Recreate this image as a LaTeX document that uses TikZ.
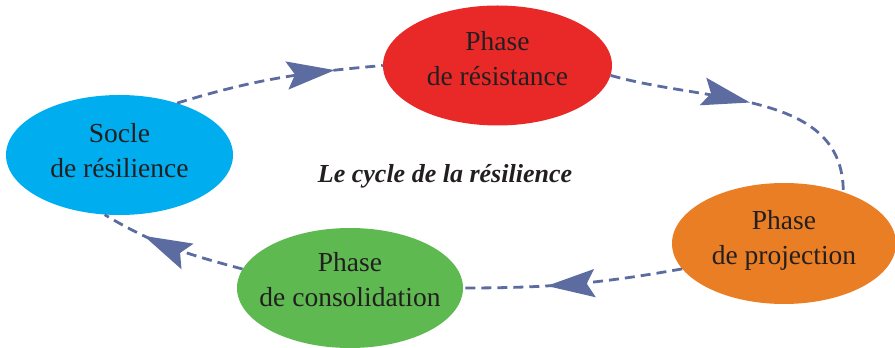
\documentclass[tikz,border=0pt]{standalone}
\usepackage{fontspec}
\setmainfont{Liberation Serif}
\usetikzlibrary{shapes.geometric,arrows.meta,decorations.markings}
\definecolor{cyanE}{HTML}{00AEEF}
\definecolor{redE}{HTML}{E92928}
\definecolor{orangeE}{HTML}{EA7E24}
\definecolor{greenE}{HTML}{5EBA50}
\definecolor{flow}{HTML}{5C6BA0}
\definecolor{ink}{HTML}{231F20}
\begin{document}
\begin{tikzpicture}[x=1pt,y=1pt,
  phase/.style={ellipse, minimum width=227pt, minimum height=120pt, inner sep=0pt},
  lbl/.style={text=ink, align=center, font=\fontsize{27.5}{35}\selectfont, text height=0pt, text depth=0pt, inner sep=0pt},
  flowline/.style={draw=flow, line width=2.8pt, dash pattern=on 10pt off 6pt,
    decoration={markings, mark=at position #1 with {\arrow{Stealth[length=48pt,width=28pt,inset=8pt]}}},
    postaction={decorate}}]
\useasboundingbox (0,0) rectangle (895,348);
\node[phase, fill=cyanE] (socle) at (119.5,193) {};
\node[phase, fill=redE, minimum width=229pt] (res) at (497.5,282.5) {};
\node[phase, fill=orangeE, minimum width=224pt, minimum height=121pt] (proj) at (784,104.5) {};
\node[phase, fill=greenE, minimum width=226pt] (cons) at (350,60) {};
\node[lbl, yshift=-23pt] (soclet) at (socle.center) {Socle\\de résilience};
\node[lbl, yshift=-20.5pt] (rest) at (res.center) {Phase\\de résistance};
\node[lbl, yshift=-21.5pt] (projt) at (proj.center) {Phase\\de projection};
\node[lbl, yshift=-19pt] (const) at (cons.center) {Phase\\de consolidation};
\node[text=ink, anchor=base, font=\fontsize{26}{30}\selectfont\bfseries\itshape] (title) at (445,165) {Le cycle de la résilience};
\draw[flowline=0.77] (socle.42) to[out=17,in=185] (res.west);
\draw[flowline=0.5] (res.-5) to[out=-16,in=90] (proj.41);
\draw[flowline=0.62] (proj.194) to[out=190,in=0] (cons.east);
\draw[flowline=0.7] (cons.170) to[out=165,in=-31] (socle.256);
\end{tikzpicture}
\end{document}
